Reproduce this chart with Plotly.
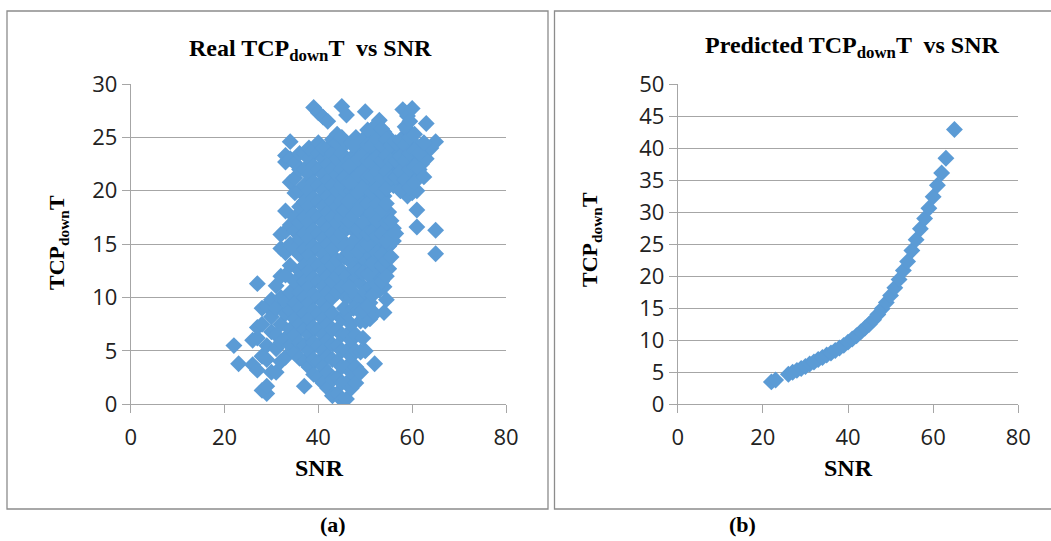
import plotly.graph_objects as go

# ---------------- data ----------------
# Real measurements: SNR columns and the TCP_down T values observed at each SNR
real_col_snr = [22, 23, 26, 27, 28, 29, 30, 31, 32, 33, 34, 35, 36, 37, 38, 39, 40, 41, 42, 43,
                44, 45, 46, 47, 48, 49, 50, 51, 52, 53, 54, 55, 56, 57, 58, 59, 60, 61, 62, 63,
                64, 65,
                45.5, 46.5, 47.5, 48.5, 49.5, 50.5, 51.5, 52.5, 53.5, 54.5, 55.5, 56.5, 57.5,
                58.5, 59.5, 60.5, 61.5, 62.5]
real_col_tcp = [
    [5.5],
    [3.8],
    [3.7, 6.0],
    [3.2, 6.2, 7.2, 11.3],
    [1.3, 4.5, 7.5, 9.0],
    [1.0, 1.7, 4.2, 5.5, 9.2],
    [3.0, 6.8, 8.2, 9.8],
    [3.0, 5.2, 6.5, 9.0, 11.1],
    [4.0, 5.8, 7.5, 10.0, 12.0, 14.6, 15.9],
    [4.4, 6.2, 8.5, 9.6, 12.1, 14.2, 16.2, 18.1, 22.7, 23.3],
    [5.5, 7.0, 8.8, 10.5, 13.0, 15.0, 16.8, 20.8, 23.0, 24.6],
    [4.8, 6.5, 8.0, 9.5, 11.5, 14.5, 16.2, 17.5, 19.8, 21.2, 22.6],
    [4.3, 5.8, 7.5, 9.0, 10.5, 12.5, 14.0, 15.5, 17.0, 18.5, 20.0, 22.0, 23.5],
    [1.7, 4.0, 5.5, 7.0, 8.5, 10.0, 11.5, 13.0, 14.5, 16.0, 17.5, 19.0, 20.5, 22.0, 23.5],
    [3.5, 5.0, 6.5, 8.0, 9.5, 11.0, 12.5, 14.0, 15.5, 17.0, 18.5, 20.0, 21.5, 23.0, 24.0],
    [2.8, 4.2, 5.8, 7.2, 8.8, 10.3, 11.8, 13.3, 14.8, 16.3, 17.8, 19.3, 20.8, 22.3, 23.8, 27.8],
    [2.5, 4.0, 5.5, 7.0, 8.5, 10.0, 11.5, 13.0, 14.5, 16.0, 17.5, 19.0, 20.5, 22.0, 23.5, 24.5, 27.3],
    [2.0, 3.5, 5.0, 6.5, 8.0, 9.5, 11.0, 12.5, 14.0, 15.5, 17.0, 18.5, 20.0, 21.5, 23.0, 24.0, 26.9],
    [1.5, 3.0, 4.5, 6.0, 7.5, 9.0, 10.5, 12.0, 13.5, 15.0, 16.5, 18.0, 19.5, 21.0, 22.5, 24.0, 26.5],
    [0.8, 2.3, 4.2, 5.6, 7.0, 8.5, 10.0, 11.5, 13.0, 14.5, 16.0, 17.5, 19.0, 20.5, 22.0, 23.5, 24.8],
    [1.0, 2.5, 4.0, 5.5, 7.0, 10.5, 12.0, 13.5, 15.5, 17.0, 18.5, 20.0, 21.5, 23.0, 24.5, 25.3],
    [0.4, 2.0, 3.5, 5.0, 6.5, 8.0, 11.0, 12.5, 16.0, 17.5, 19.0, 20.5, 22.0, 23.5, 25.0, 27.9],
    [0.5, 2.0, 3.5, 5.0, 6.5, 8.5, 10.0, 12.0, 15.0, 16.5, 18.0, 19.8, 21.5, 23.0, 24.5, 27.1],
    [1.5, 3.0, 4.5, 6.0, 7.5, 10.0, 11.5, 14.0, 16.5, 18.0, 20.0, 21.5, 23.0, 24.5],
    [2.0, 3.5, 5.0, 6.5, 10.2, 11.8, 13.0, 15.5, 17.0, 19.0, 20.5, 22.0, 23.5, 25.0],
    [3.0, 4.9, 7.8, 9.8, 11.3, 13.5, 16.0, 19.5, 21.0, 22.5, 24.0],
    [5.0, 7.8, 10.5, 13.5, 16.5, 17.8, 20.5, 22.0, 23.5, 25.0, 27.4],
    [8.0, 9.5, 11.0, 14.0, 15.5, 17.0, 19.0, 20.5, 22.0, 23.5, 25.0],
    [3.8, 8.5, 10.5, 12.0, 13.5, 15.0, 16.5, 18.0, 19.5, 21.0, 22.5, 24.0, 25.5],
    [10.7, 12.0, 13.5, 15.0, 16.5, 17.5, 19.0, 20.5, 22.0, 23.5, 25.0, 26.6],
    [8.6, 11.0, 12.5, 14.5, 16.0, 17.5, 19.5, 21.0, 22.5, 24.0, 25.5],
    [12.7, 14.8, 16.5, 18.0, 20.5, 22.0, 23.5, 25.0],
    [15.3, 16.5, 20.5, 22.0, 23.5],
    [21.0, 22.5, 24.0],
    [20.4, 22.0, 23.5, 25.0, 27.6],
    [19.5, 21.0, 22.5, 24.0, 25.7, 27.0],
    [19.8, 21.5, 23.0, 24.5, 27.7],
    [16.6, 18.2, 20.0, 21.5, 23.0, 24.2],
    [22.5, 23.8],
    [23.0, 26.3],
    [24.0],
    [14.1, 16.3, 24.6],
    # half-step columns
    [9.0, 13.8, 14.8, 18.2, 21.2],
    [11.0, 13.5, 14.2, 17.2, 19.0, 20.8, 22.3],
    [9.0, 12.7, 15.2, 17.7, 19.5, 21.0, 22.7, 24.2],
    [8.8, 12.5, 14.3, 16.3, 18.2, 19.8, 21.5, 23.0],
    [6.2, 8.8, 12.3, 14.8, 17.0, 18.8, 20.3, 21.8, 23.3, 24.8],
    [9.2, 12.2, 15.0, 16.0, 18.8, 21.3, 22.8, 24.3, 25.7],
    [10.2, 12.5, 13.2, 16.2, 18.0, 19.8, 21.3, 22.8, 24.3, 25.8],
    [11.2, 14.2, 15.8, 17.2, 18.8, 20.2, 21.8, 23.2, 24.8, 26.2],
    [11.5, 13.0, 14.0, 16.0, 18.2, 19.8, 21.2, 22.8, 24.2, 25.8],
    [9.8, 12.0, 13.5, 15.3, 17.0, 18.8, 20.2, 21.8, 23.3, 24.8],
    [13.8, 15.8, 17.2, 21.2, 22.8, 24.3],
    [16.0, 21.3, 22.8, 24.5],
    [20.0, 21.8, 23.2, 24.7],
    [21.0, 22.8, 24.3, 26.0],
    [20.3, 22.0, 23.5, 25.0, 26.5],
    [20.8, 22.3, 23.8, 25.3],
    [22.0, 23.5],
    [21.3, 24.5],
]

# Predicted model output
pred_snr = [22, 23, 26, 27, 28, 29, 30, 31, 32, 33, 34, 35, 36, 37, 38, 39, 40, 41, 42, 43,
            44, 45, 46, 47, 48, 49, 50, 51, 52, 53, 54, 55, 56, 57, 58, 59, 60, 61, 62, 63, 65]
pred_tcp = [3.5, 3.8, 4.7, 5.0, 5.3, 5.6, 5.9, 6.3, 6.6, 7.0, 7.3, 7.7, 8.0, 8.4, 8.8, 9.2,
            9.7, 10.2, 10.7, 11.3, 11.9, 12.5, 13.2, 14.0, 14.9, 15.9, 17.0, 18.2, 19.5, 20.9,
            22.3, 24.0, 25.7, 27.4, 29.0, 30.6, 32.4, 34.2, 36.1, 38.4, 42.9]

x_ticks = [0, 20, 40, 60, 80]
left_y_ticks = [0, 5, 10, 15, 20, 25, 30]
right_y_ticks = [0, 5, 10, 15, 20, 25, 30, 35, 40, 45, 50]

real_snr = []
real_tcp = []
for s, vals in zip(real_col_snr, real_col_tcp):
    for v in vals:
        real_snr.append(s)
        real_tcp.append(v)

# ---------------- figure ----------------
W, H = 1051, 541
BLUE = "#5B9BD5"
GRID = "#A6A6A6"
SERIF = "Liberation Serif, Times New Roman, serif"
SANS = "Open Sans, sans-serif"

fig = go.Figure()
fig.add_trace(go.Scatter(x=real_snr, y=real_tcp, mode="markers", xaxis="x", yaxis="y",
                         marker=dict(symbol="diamond", size=13, color=BLUE, line=dict(width=0)),
                         showlegend=False, hoverinfo="skip"))
fig.add_trace(go.Scatter(x=pred_snr, y=pred_tcp, mode="markers", xaxis="x2", yaxis="y2",
                         marker=dict(symbol="diamond", size=13, color=BLUE, line=dict(width=0)),
                         showlegend=False, hoverinfo="skip"))


def px_x(p):
    return p / W


def px_y(p):
    return 1 - p / H


axis_common = dict(showgrid=False, zeroline=False, showline=True, linecolor=GRID, linewidth=1,
                   ticks="outside", ticklen=8, tickcolor=GRID, tickwidth=1, automargin=False,
                   tickfont=dict(family=SANS, size=22, color="#222222"), fixedrange=True)
x_extra = dict(ticklabelstandoff=5)
y_extra = dict(showgrid=True, gridcolor=GRID, gridwidth=1)

ydom = [px_y(404.3), px_y(84)]

fig.update_layout(
    width=W, height=H, autosize=False,
    margin=dict(l=0, r=0, t=0, b=0, pad=0, autoexpand=False),
    paper_bgcolor="white", plot_bgcolor="white", showlegend=False,
    xaxis=dict(domain=[px_x(130.7), px_x(506)], range=[0, 80], tickvals=x_ticks,
               anchor="y", **axis_common, **x_extra),
    yaxis=dict(domain=ydom, range=[0, 30], tickvals=left_y_ticks, anchor="x",
               **{**axis_common, **y_extra}),
    xaxis2=dict(domain=[px_x(677.7), px_x(1018.3)], range=[0, 80], tickvals=x_ticks,
                anchor="y2", **axis_common, **x_extra),
    yaxis2=dict(domain=ydom, range=[0, 50], tickvals=right_y_ticks, anchor="x2",
                **{**axis_common, **y_extra}),
)

# panel borders
fig.add_shape(type="rect", xref="paper", yref="paper",
              x0=px_x(7), x1=px_x(548), y0=px_y(509), y1=px_y(11),
              line=dict(color="#8C8C8C", width=1.3), fillcolor="rgba(0,0,0,0)", layer="below")
fig.add_shape(type="rect", xref="paper", yref="paper",
              x0=px_x(554.5), x1=px_x(1060), y0=px_y(509), y1=px_y(11),
              line=dict(color="#8C8C8C", width=1.3), fillcolor="rgba(0,0,0,0)", layer="below")


def note(text, x, y, size, angle=0):
    fig.add_annotation(text=text, x=px_x(x), y=px_y(y), xref="paper", yref="paper",
                       showarrow=False, xanchor="center", yanchor="middle", textangle=angle,
                       font=dict(family=SERIF, size=size, color="black"))


note("<b>Real TCP<sub>down</sub>T  vs SNR</b>", 310, 50, 24)
note("<b>Predicted TCP<sub>down</sub>T  vs SNR</b>", 852, 47, 24)
note("<b>TCP<sub>down</sub>T</b>", 58, 243, 22, -90)
note("<b>TCP<sub>down</sub>T</b>", 591, 240, 22, -90)
note("<b>SNR</b>", 319, 468, 24)
note("<b>SNR</b>", 848, 468, 24)
note("<b>(a)</b>", 333, 524, 22)
note("<b>(b)</b>", 742, 524, 22)

fig.write_html("out.html", config={"displayModeBar": False},
               post_script="document.body.style.margin='0px';"
                           "document.body.style.overflow='hidden';")
